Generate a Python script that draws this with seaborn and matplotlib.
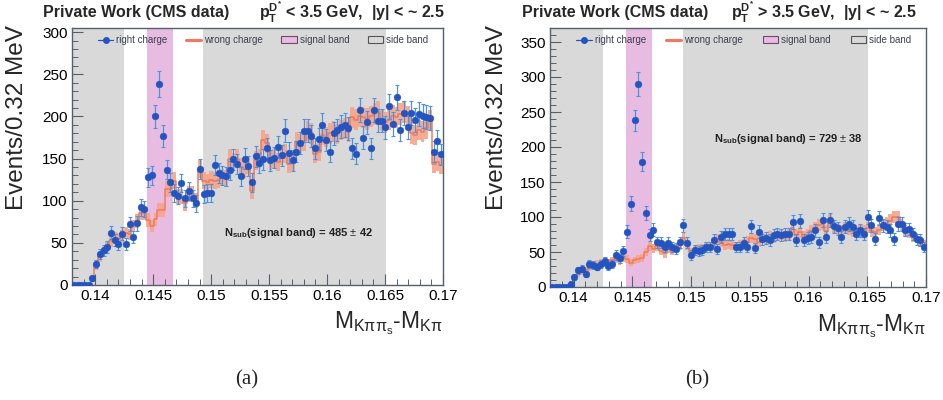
import numpy as np
import pandas as pd
import matplotlib
matplotlib.use("Agg")
import matplotlib.pyplot as plt
import seaborn as sns
from matplotlib.lines import Line2D
from matplotlib.patches import Patch
from matplotlib.ticker import MultipleLocator, FuncFormatter

# ---------------- data ----------------
bin_width = 0.00032
x_start = 0.138
n_bins = 100

right_a = [0, 0, 0, 0, 0, 8, 25, 37, 41, 45, 62, 53, 49, 61, 49, 72, 57, 73, 92, 90,
           128, 130, 200, 238, 177, 137,
           122, 109, 106, 121, 103, 112, 103, 97, 138, 108, 109, 109, 142, 133, 130, 129, 136, 149, 144, 129,
           150, 141, 122, 153, 145, 149, 162, 148, 151, 164, 154, 183, 157, 148, 158, 169, 183, 183, 177, 162,
           173, 190, 172, 158, 180, 184, 188, 190, 186, 162, 156, 208, 175, 193, 162, 208, 195, 195, 187, 212,
           191, 223, 184, 204, 187, 204, 196, 203, 201, 199, 198, 158, 171, 155]
wrong_a = [0, 0, 0, 0, 1, 6, 22, 33, 40, 45, 52, 56, 55, 58, 62, 60, 70, 76, 86, 86,
           77, 70, 78, 89, 89, 114, 114, 124, 105, 105, 97, 108, 108, 100, 138, 124, 122, 125, 124, 125,
           128, 126, 150, 146, 150, 140, 138, 142, 112, 148, 150, 172, 168, 148, 150, 146, 154, 156, 144, 146,
           170, 168, 171, 183, 180, 156, 158, 178, 176, 180, 182, 179, 184, 186, 182, 199, 196, 200, 199, 197,
           200, 203, 205, 195, 193, 196, 201, 199, 203, 205, 200, 180, 178, 184, 182, 186, 195, 144, 146, 142]
right_b = [0, 0, 0, 0, 0, 5, 14, 24, 26, 18, 33, 31, 29, 33, 37, 30, 33, 46, 41, 51,
           79, 119, 238, 290, 179, 106,
           74, 82, 64, 63, 57, 63, 57, 55, 64, 88, 63, 46, 53, 52, 53, 57, 57, 67, 54, 71,
           76, 76, 76, 57, 57, 63, 57, 87, 56, 79, 68, 70, 67, 74, 76, 74, 76, 76, 93, 67,
           94, 67, 70, 71, 81, 64, 96, 71, 96, 87, 84, 71, 86, 90, 86, 76, 81, 76, 100, 88,
           69, 98, 88, 86, 81, 69, 90, 90, 82, 83, 76, 68, 67, 57]
wrong_b = [0, 0, 0, 0, 0, 4, 12, 18, 22, 24, 28, 30, 33, 35, 37, 35, 38, 40, 37, 42,
           40, 35, 38, 40, 42, 50, 58, 55, 58, 52, 48, 55, 52, 55, 60, 70, 60, 50, 52, 55,
           55, 57, 58, 60, 68, 65, 60, 62, 60, 58, 60, 62, 65, 70, 68, 65, 70, 68, 72, 70,
           73, 75, 72, 75, 85, 75, 78, 72, 75, 80, 85, 88, 90, 80, 95, 85, 82, 80, 85, 82,
           80, 78, 82, 80, 85, 80, 78, 82, 88, 92, 95, 100, 100, 88, 80, 78, 72, 70, 65, 60]

signal_band = (0.1445, 0.1467)
side_band_lo = (0.138, 0.1425)
side_band_hi = (0.1493, 0.1651)

cut_labels = [r"$\mathbf{p}_{\mathbf{T}}^{\mathbf{D^{*}}}$ < 3.5 GeV,  |y| < ~ 2.5",
              r"$\mathbf{p}_{\mathbf{T}}^{\mathbf{D^{*}}}$ > 3.5 GeV,  |y| < ~ 2.5"]
nsub_labels = [r"$\mathbf{N_{sub}}$(signal band) = 485 $\pm$ 42",
               r"$\mathbf{N_{sub}}$(signal band) = 729 $\pm$ 38"]
nsub_pos = [(0.1511, 62), (0.1520, 211)]
y_max = [305, 370]
y_major = [[0, 50, 100, 150, 200, 250, 300], [0, 50, 100, 150, 200, 250, 300, 350]]
captions = ["(a)", "(b)"]

# ---------------- style ----------------
sns.set_style("ticks")
plt.rcParams["font.family"] = ["Liberation Sans", "DejaVu Sans"]
plt.rcParams["mathtext.fontset"] = "custom"
plt.rcParams["mathtext.rm"] = "Liberation Sans"
plt.rcParams["mathtext.bf"] = "Liberation Sans:bold"
plt.rcParams["mathtext.it"] = "Liberation Sans:italic"

frame_col = "#56606c"
blue = "#2354c0"
blue_err = "#4f92de"
orange_line = "#f27a5a"
orange_box = "#f6a48a"
gray_band = "#d9d9d9"
pink_band = "#e8bce0"

edges = x_start + bin_width * np.arange(n_bins + 1)
centers = 0.5 * (edges[:-1] + edges[1:])

fig = plt.figure(figsize=(9.43, 4.0), dpi=100)
axes_rects = [[72 / 943, 1 - 285 / 400, 371 / 943, 257 / 400],
              [550 / 943, 1 - 287 / 400, 376 / 943, 259 / 400]]
ylabel_x = [-0.148, -0.141]

datasets = [(right_a, wrong_a), (right_b, wrong_b)]

for k, (rc, wc) in enumerate(datasets):
    ax = fig.add_axes(axes_rects[k])
    rc = np.array(rc, dtype=float)
    wc = np.array(wc, dtype=float)
    df = pd.DataFrame({"x": centers, "right": rc, "wrong": wc})

    ax.axvspan(side_band_lo[0] - 0.001, side_band_lo[1], color=gray_band, lw=0, zorder=0)
    ax.axvspan(side_band_hi[0], side_band_hi[1], color=gray_band, lw=0, zorder=0)
    ax.axvspan(signal_band[0], signal_band[1], color=pink_band, lw=0, zorder=0)

    # wrong charge: error boxes + step line
    werr = 0.9 * np.sqrt(wc)
    ax.bar(centers, 2 * werr, bottom=wc - werr, width=bin_width, color=orange_box,
           alpha=0.9, lw=0, zorder=2)
    sns.lineplot(data=df, x="x", y="wrong", drawstyle="steps-mid",
                 color=orange_line, linewidth=1.1, ax=ax, zorder=3)

    # right charge: points with errors
    rerr = np.sqrt(rc)
    ax.errorbar(centers, rc, yerr=rerr, xerr=bin_width / 2, fmt="none", ecolor=blue_err,
                elinewidth=0.9, capsize=1.6, capthick=0.8, zorder=4)
    sns.scatterplot(data=df, x="x", y="right", color=blue, s=24, edgecolor=blue,
                    linewidth=0.3, ax=ax, zorder=5)

    ax.set_xlim(x_start, 0.17)
    ax.set_ylim(0, y_max[k])
    ax.set_xlabel("")
    ax.set_ylabel("")
    ax.xaxis.set_major_locator(MultipleLocator(0.005))
    ax.xaxis.set_minor_locator(MultipleLocator(0.001))
    ax.xaxis.set_major_formatter(FuncFormatter(lambda v, p: "%g" % round(v, 4)))
    ax.set_yticks(y_major[k])
    ax.yaxis.set_minor_locator(MultipleLocator(10))
    ax.tick_params(which="both", direction="in", colors=frame_col, labelcolor="black",
                   labelsize=11, top=False, right=False)
    ax.tick_params(which="major", length=8, width=0.8)
    ax.tick_params(which="minor", length=4, width=0.7)
    ax.tick_params(axis="x", pad=3)
    ax.tick_params(axis="y", pad=3)
    for sp in ax.spines.values():
        sp.set_visible(True)
        sp.set_color(frame_col)
        sp.set_linewidth(1.0)

    ax.text(ylabel_x[k], 1.012, "Events/0.32 MeV", rotation=90, ha="center", va="top",
            fontsize=17.5, transform=ax.transAxes)
    ax.text(1.0, -0.15, r"$\mathregular{M_{K\pi\pi_{s}}}$-$\mathregular{M_{K\pi}}$",
            ha="right", va="center", fontsize=16.5, transform=ax.transAxes)

    ax.text(nsub_pos[k][0], nsub_pos[k][1], nsub_labels[k], fontsize=8, fontweight="bold",
            ha="left", va="center", color="#222222", zorder=6)

    handles = [Line2D([0], [0], color=blue, marker="o", markersize=4, lw=0.9),
               Line2D([0], [0], color=orange_line, lw=2.2),
               Patch(facecolor=pink_band, edgecolor="#6e4a66", lw=0.8),
               Patch(facecolor=gray_band, edgecolor="#555555", lw=0.8)]
    labels = ["right charge", "wrong charge", "signal band", "side band"]
    ax.legend(handles, labels, ncol=4, loc="upper left", mode="expand",
              bbox_to_anchor=(0.05, 1.0, 0.93, 0.0), frameon=False, fontsize=7,
              handlelength=1.6, handletextpad=0.3, borderaxespad=0.35,
              labelcolor="#3a4250")

    # header texts
    hx0 = [43 / 943, 522 / 943][k]
    hx1 = [445 / 943, 917 / 943][k]
    fig.text(hx0, 1 - 12.5 / 400, "Private Work (CMS data)", fontsize=11.5,
             fontweight="bold", ha="left", va="center")
    fig.text(hx1, 1 - 12.5 / 400, cut_labels[k], fontsize=11.5, fontweight="bold",
             ha="right", va="center")
    cx = [247 / 943, 697 / 943][k]
    fig.text(cx, 1 - 380 / 400, captions[k], fontsize=15, ha="center", va="center",
             family=["Liberation Serif", "DejaVu Serif"])

fig.savefig("out.png", dpi=100, facecolor="white")
